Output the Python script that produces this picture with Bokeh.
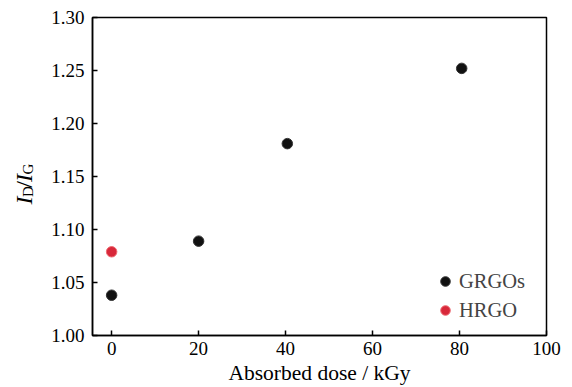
from bokeh.plotting import figure
from bokeh.layouts import row
from bokeh.models import FixedTicker, PrintfTickFormatter, Label, Legend, LegendItem
from bokeh.embed import file_html
from bokeh.resources import INLINE
import math

grgo_dose = [0, 20, 40.4, 80.5]
grgo_ratio = [1.038, 1.089, 1.181, 1.252]
hrgo_dose = [0]
hrgo_ratio = [1.079]
x_ticks = [0, 20, 40, 60, 80, 100]
y_ticks = [1.00, 1.05, 1.10, 1.15, 1.20, 1.25, 1.30]

FONT = "'Liberation Serif', 'Times New Roman', serif"
LEFT_W = 44
FRAME_BOTTOM = 335  # canvas y of the plotting frame's bottom edge

p = figure(width=572 - LEFT_W, height=387, output_backend="svg", toolbar_location=None,
           x_range=(-4.4, 100), y_range=(1.0, 1.3),
           min_border_left=92 - LEFT_W, min_border_right=26, min_border_top=17,
           min_border_bottom=387 - FRAME_BOTTOM)
p.grid.visible = False
p.outline_line_color = "black"
p.outline_line_width = 1.5
p.background_fill_color = "white"
p.border_fill_color = "white"

for ax in (p.xaxis[0], p.yaxis[0]):
    ax.major_tick_in = 5
    ax.major_tick_out = 0
    ax.minor_tick_line_color = None
    ax.axis_line_width = 1.5
    ax.major_tick_line_width = 1.5
    ax.major_label_text_font = FONT
    ax.major_label_text_font_size = "19px"
    ax.major_label_text_color = "black"

p.xaxis.ticker = FixedTicker(ticks=x_ticks)
p.yaxis.ticker = FixedTicker(ticks=y_ticks)
p.yaxis.formatter = PrintfTickFormatter(format="%.2f")
p.xaxis.axis_label = "Absorbed dose / kGy"
p.xaxis.axis_label_text_font = FONT
p.xaxis.axis_label_text_font_size = "21.5px"
p.xaxis.axis_label_text_font_style = "normal"
p.xaxis.axis_label_text_color = "black"
p.xaxis.axis_label_standoff = 3
p.xaxis.major_label_standoff = 6
p.yaxis.major_label_standoff = 8

r1 = p.scatter(grgo_dose, grgo_ratio, size=10.5, fill_color="#111111", line_color="#333333", line_width=1)
r2 = p.scatter(hrgo_dose, hrgo_ratio, size=10.5, fill_color="#d8283a", line_color="#ee6a72", line_width=1)

legend = Legend(items=[LegendItem(label="GRGOs", renderers=[r1]), LegendItem(label="HRGO", renderers=[r2])],
                location=(341, 13), border_line_color=None, background_fill_alpha=0,
                label_text_font=FONT, label_text_font_size="20.5px",
                glyph_width=24, glyph_height=24, label_standoff=2, spacing=5,
                label_height=20, padding=0, margin=0)
p.add_layout(legend)

# left strip carrying the y-axis label I_D/I_G (rotated pieces)
q = figure(width=LEFT_W, height=387, output_backend="svg", toolbar_location=None,
           x_range=(0, 1), y_range=(0, 1), min_border=0)
q.axis.visible = False
q.grid.visible = False
q.outline_line_color = None
q.border_fill_color = "white"
q.background_fill_color = "white"

pieces = [("I", "italic", "24px", 0), ("D", "normal", "15px", 4), ("/", "normal", "24px", 0),
          ("I", "italic", "24px", 0), ("G", "normal", "15px", 4)]
advances = [7.5, 9.2, 5.8, 7.5, 11]
base_x = 23
yy = FRAME_BOTTOM - 204
for (t, st, fs, off), w in zip(pieces, advances):
    q.add_layout(Label(x=base_x + off, y=yy, x_units="screen", y_units="screen", text=t,
                       text_font=FONT, text_font_style=st, text_font_size=fs,
                       angle=math.pi / 2, text_baseline="alphabetic", text_align="left",
                       text_color="black"))
    yy += w

layout = row(q, p, spacing=0)
open("out.html", "w").write(file_html(layout, INLINE))
